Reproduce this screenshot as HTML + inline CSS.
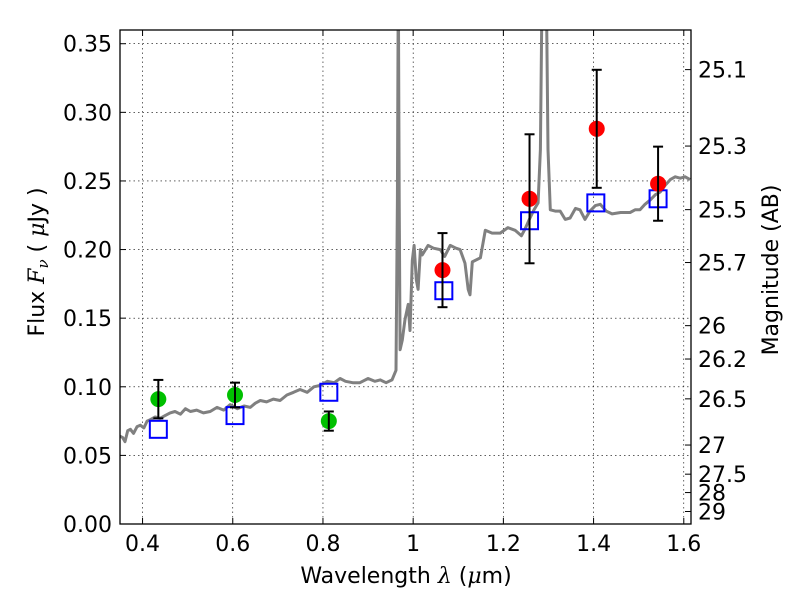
<!DOCTYPE html>
<html><head><meta charset="utf-8"><style>
body{margin:0;background:#fff;}
svg text{font-family:"DejaVu Sans","Liberation Sans",sans-serif;fill:#000;}
</style></head><body>
<svg id="chart" width="800" height="600" xmlns="http://www.w3.org/2000/svg">
<rect width="800" height="600" fill="#fff"/>
<g id="grid"></g>
<g id="spec"></g>
<g id="marks"></g>
<g id="axes"></g>
</svg>
<script>
const specWave=[0.350,0.356,0.361,0.367,0.373,0.380,0.388,0.395,0.403,0.410,0.417,0.428,0.439,0.450,0.461,0.472,0.484,0.495,0.506,0.520,0.535,0.550,0.565,0.580,0.594,0.610,0.625,0.639,0.650,0.661,0.675,0.690,0.705,0.720,0.735,0.749,0.765,0.780,0.794,0.810,0.825,0.838,0.850,0.866,0.882,0.900,0.915,0.927,0.940,0.953,0.962,0.965,0.967,0.969,0.971,0.976,0.982,0.989,0.993,0.998,1.002,1.007,1.011,1.016,1.020,1.033,1.045,1.060,1.070,1.082,1.095,1.104,1.115,1.122,1.126,1.131,1.149,1.160,1.175,1.193,1.210,1.226,1.240,1.248,1.259,1.268,1.277,1.282,1.286,1.295,1.299,1.304,1.315,1.326,1.337,1.348,1.360,1.370,1.381,1.392,1.404,1.415,1.428,1.441,1.460,1.481,1.492,1.503,1.514,1.525,1.537,1.548,1.559,1.570,1.581,1.592,1.603,1.614];
const specFlux=[0.064,0.063,0.060,0.068,0.069,0.066,0.071,0.072,0.070,0.075,0.076,0.078,0.077,0.079,0.081,0.082,0.080,0.084,0.082,0.083,0.081,0.082,0.085,0.083,0.087,0.084,0.086,0.085,0.088,0.090,0.089,0.091,0.090,0.094,0.096,0.098,0.096,0.100,0.101,0.104,0.103,0.106,0.104,0.103,0.103,0.106,0.104,0.105,0.103,0.105,0.112,0.236,0.40,0.236,0.127,0.134,0.149,0.160,0.141,0.192,0.203,0.178,0.171,0.200,0.196,0.203,0.201,0.200,0.195,0.203,0.201,0.200,0.190,0.171,0.167,0.191,0.194,0.214,0.212,0.212,0.216,0.214,0.210,0.215,0.223,0.229,0.234,0.273,0.40,0.40,0.273,0.229,0.228,0.228,0.222,0.223,0.230,0.229,0.222,0.228,0.232,0.233,0.228,0.226,0.227,0.227,0.229,0.229,0.233,0.236,0.240,0.242,0.247,0.251,0.253,0.252,0.253,0.251];
const greenWave=[0.435,0.605,0.813];
const greenFlux=[0.091,0.094,0.075];
const greenErr=[0.014,0.009,0.007];
const redWave=[1.065,1.258,1.407,1.543];
const redFlux=[0.185,0.237,0.288,0.248];
const redErr=[0.027,0.047,0.043,0.027];
const modelWave=[0.435,0.605,0.813,1.068,1.258,1.405,1.543];
const modelFlux=[0.069,0.079,0.096,0.170,0.221,0.234,0.237];
const xTicks=[0.4,0.6,0.8,1.0,1.2,1.4,1.6];
const xTickLabels=["0.4","0.6","0.8","1","1.2","1.4","1.6"];
const yTicks=[0,0.05,0.10,0.15,0.20,0.25,0.30,0.35];
const yTickLabels=["0.00","0.05","0.10","0.15","0.20","0.25","0.30","0.35"];
const magTicks=[25.1,25.3,25.5,25.7,26,26.2,26.5,27,27.5,28,29];
const magLabels=["25.1","25.3","25.5","25.7","26","26.2","26.5","27","27.5","28","29"];

const L=120,R=691,T=30,B=524,X0=0.35,X1=1.616,Y0=0,Y1=0.36;
const sx=v=>L+(v-X0)/(X1-X0)*(R-L);
const sy=v=>B-(v-Y0)/(Y1-Y0)*(B-T);
const NS="http://www.w3.org/2000/svg";
function mk(tag,attrs,parent,txt){const e=document.createElementNS(NS,tag);for(const k in attrs)e.setAttribute(k,attrs[k]);if(txt!==undefined)e.textContent=txt;parent.appendChild(e);return e;}
const grid=document.getElementById('grid'),spec=document.getElementById('spec'),marks=document.getElementById('marks'),axes=document.getElementById('axes');

xTicks.forEach(v=>{const g=mk('line',{x1:sx(v),x2:sx(v),y1:T,y2:B,stroke:'#000','stroke-width':0.6,'stroke-dasharray':'1.5,3'},grid);

});
yTicks.forEach(v=>{const g=mk('line',{x1:L,x2:R,y1:sy(v),y2:sy(v),stroke:'#000','stroke-width':0.6,'stroke-dasharray':'1.5,3'},grid);

});

mk('clipPath',{id:'clip'},spec);
mk('rect',{x:L,y:T,width:R-L,height:B-T},document.getElementById('clip'));
const pts=specWave.map((w,i)=>sx(w).toFixed(1)+','+sy(specFlux[i]).toFixed(1)).join(' ');
const pl=mk('polyline',{points:pts,fill:'none',stroke:'#808080','stroke-width':3,'clip-path':'url(#clip)','stroke-linejoin':'round'},spec);



function errbar(w,f,e){const x=sx(w);
mk('line',{x1:x,x2:x,y1:sy(f-e),y2:sy(f+e),stroke:'#000','stroke-width':2},marks);
mk('line',{x1:x-5,x2:x+5,y1:sy(f-e),y2:sy(f-e),stroke:'#000','stroke-width':2},marks);
mk('line',{x1:x-5,x2:x+5,y1:sy(f+e),y2:sy(f+e),stroke:'#000','stroke-width':2},marks);}
modelWave.forEach((w,i)=>{const r=mk('rect',{x:sx(w)-8.5,y:sy(modelFlux[i])-8.5,width:17,height:17,fill:'none',stroke:'#0000ff','stroke-width':2},marks);

});
greenWave.forEach((w,i)=>{const c=mk('circle',{cx:sx(w),cy:sy(greenFlux[i]),r:8,fill:'#00c000'},marks);


errbar(w,greenFlux[i],greenErr[i]);});
redWave.forEach((w,i)=>{const c=mk('circle',{cx:sx(w),cy:sy(redFlux[i]),r:8,fill:'#ff0000'},marks);


errbar(w,redFlux[i],redErr[i]);});

const fr=mk('rect',{x:L,y:T,width:R-L,height:B-T,fill:'none',stroke:'#000','stroke-width':1.3},axes);


xTicks.forEach((v,i)=>{mk('line',{x1:sx(v),x2:sx(v),y1:B,y2:B-6,stroke:'#000'},axes);mk('line',{x1:sx(v),x2:sx(v),y1:T,y2:T+6,stroke:'#000'},axes);
const t=mk('text',{x:sx(v),y:B+27,'font-size':22,'text-anchor':'middle'},axes,xTickLabels[i]);

});
yTicks.forEach((v,i)=>{mk('line',{x1:L,x2:L+6,y1:sy(v),y2:sy(v),stroke:'#000'},axes);
const t=mk('text',{x:L-8,y:sy(v)+8,'font-size':22,'text-anchor':'end'},axes,yTickLabels[i]);

});
magTicks.forEach((m,i)=>{const f=Math.pow(10,(23.9-m)/2.5);const y=sy(f);
mk('line',{x1:R,x2:R-6,y1:y,y2:y,stroke:'#000'},axes);
const t=mk('text',{x:R+7,y:y+8,'font-size':22},axes,magLabels[i]);

});
</script>
<svg style="position:absolute;left:0;top:0" width="800" height="600">
<text x="406" y="583" font-size="22" text-anchor="middle" style="font-family:'DejaVu Sans',sans-serif">Wavelength  <tspan font-style="italic" font-family="DejaVu Serif">λ</tspan> (<tspan font-style="italic" font-family="DejaVu Serif">μ</tspan>m)</text>
<text transform="translate(44,262) rotate(-90)" font-size="22" text-anchor="middle" style="font-family:'DejaVu Sans',sans-serif">Flux  <tspan font-style="italic" font-family="DejaVu Serif">F</tspan><tspan font-style="italic" font-family="DejaVu Serif" font-size="15" dy="4">ν</tspan><tspan dy="-4">  ( </tspan><tspan font-style="italic" font-family="DejaVu Serif">μ</tspan>Jy )</text>
<text transform="translate(778,270) rotate(-90)" font-size="22" text-anchor="middle" style="font-family:'DejaVu Sans',sans-serif">Magnitude (AB)</text>
</svg>
</body></html>
